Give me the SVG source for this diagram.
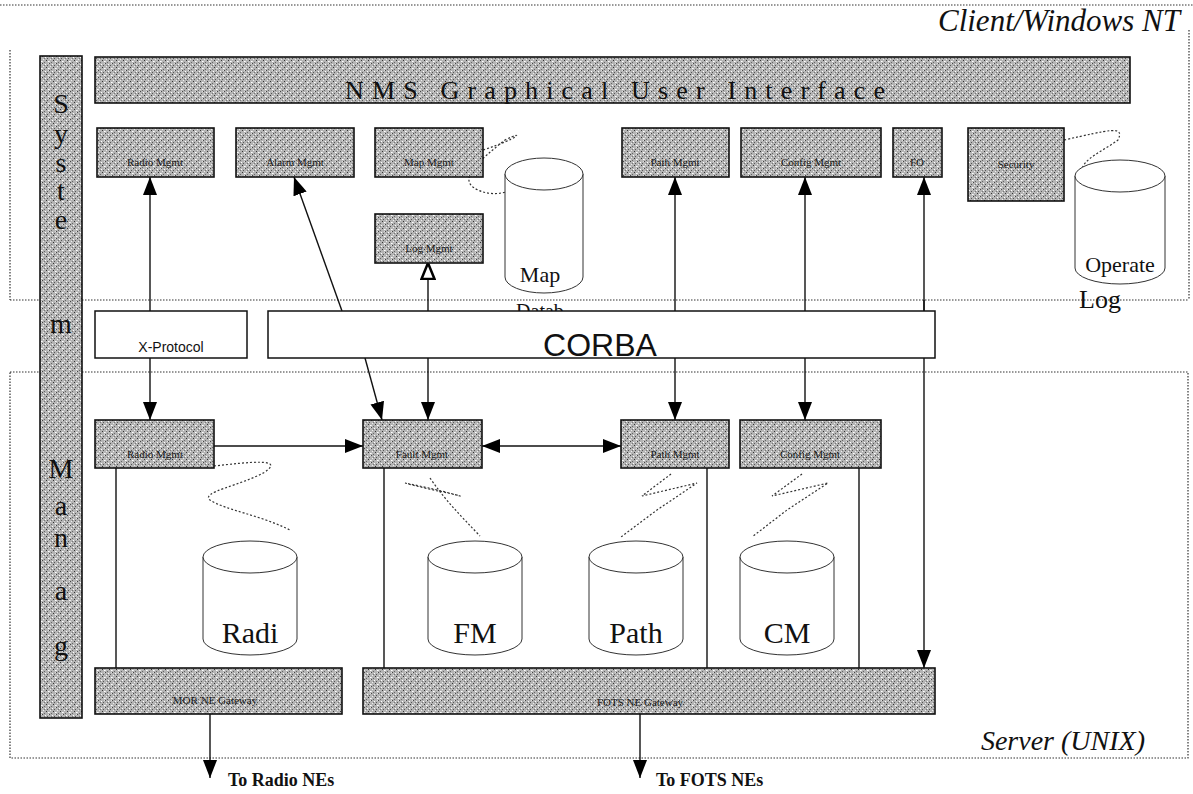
<svg xmlns="http://www.w3.org/2000/svg" width="1193" height="794" viewBox="0 0 1193 794">
<style>
.frame{fill:none;stroke:#333;stroke-width:1.2;stroke-dasharray:1.5 1.5}
.tex{fill:url(#grain);stroke:#111;stroke-width:1.6}
.wbox{fill:#fff;stroke:#111;stroke-width:1.5}
.lbl{font-family:"Liberation Serif",serif;font-size:11px;fill:#1a1a1a;text-anchor:middle}
.cyl{fill:#fff;stroke:#333;stroke-width:1}
.cyltxt{font-family:"Liberation Serif",serif;fill:#111;text-anchor:middle}
.vl{font-family:"Liberation Serif",serif;font-size:28px;fill:#111;text-anchor:middle}
.con{stroke:#111;stroke-width:1.4;fill:none}
.dot{fill:none;stroke:#333;stroke-width:1.2;stroke-dasharray:2 2}
.ital{font-family:"Liberation Serif",serif;font-style:italic;fill:#111}
.ne{font-family:"Liberation Serif",serif;font-weight:bold;font-size:18px;fill:#111}
</style>
<defs>
<pattern id="grain" width="7" height="7" patternUnits="userSpaceOnUse">
<rect width="7" height="7" fill="#b4b4b4"/>
<rect x="0" y="0" width="1" height="1" fill="#444"/>
<rect x="3" y="1" width="1" height="1" fill="#fff"/>
<rect x="5" y="2" width="1" height="1" fill="#555"/>
<rect x="1" y="3" width="1" height="1" fill="#eee"/>
<rect x="4" y="4" width="1" height="1" fill="#333"/>
<rect x="6" y="5" width="1" height="1" fill="#fff"/>
<rect x="2" y="6" width="1" height="1" fill="#666"/>
<rect x="6" y="0" width="1" height="1" fill="#ddd"/>
<rect x="2" y="2" width="1" height="1" fill="#777"/>
<rect x="0" y="5" width="1" height="1" fill="#e8e8e8"/>
</pattern>
<marker id="ah" viewBox="0 0 18 14" refX="18" refY="7" markerWidth="18" markerHeight="14" orient="auto" markerUnits="userSpaceOnUse">
<path d="M0,0 L18,7 L0,14 z" fill="#000"/>
</marker>
<marker id="ahs" viewBox="0 0 18 14" refX="0" refY="7" markerWidth="18" markerHeight="14" orient="auto" markerUnits="userSpaceOnUse">
<path d="M18,0 L0,7 L18,14 z" fill="#000"/>
</marker>
<marker id="aho" viewBox="0 0 18 16" refX="17" refY="8" markerWidth="18" markerHeight="16" orient="auto" markerUnits="userSpaceOnUse">
<path d="M1,1.5 L17,8 L1,14.5 z" fill="#fff" stroke="#000" stroke-width="2.5"/>
</marker>
</defs>
<rect width="1193" height="794" fill="#fff"/>

<g id="frames">
<path class="frame" d="M0,5 H1193 M1189,30 V300 M10,50 V300 M10,300 H1189"/>
<path class="frame" d="M10,372 H1188 V758 H10 Z"/>
<text class="ital" x="1180" y="31" font-size="31" text-anchor="end">Client/Windows NT</text>
<text class="ital" x="1145" y="750" font-size="28" text-anchor="end">Server (UNIX)</text>
</g>

<g id="connectors">
<line class="con" x1="150" y1="311" x2="150" y2="177" marker-end="url(#ah)"/>
<line class="con" x1="342" y1="311" x2="294" y2="177" marker-end="url(#ah)"/>
<line class="con" x1="428" y1="311" x2="428" y2="263" marker-end="url(#aho)"/>
<line class="con" x1="675" y1="311" x2="675" y2="177" marker-end="url(#ah)"/>
<line class="con" x1="805" y1="311" x2="805" y2="177" marker-end="url(#ah)"/>
<line class="con" x1="924" y1="311" x2="924" y2="177" marker-end="url(#ah)"/>
<line class="con" x1="150" y1="358" x2="150" y2="420" marker-end="url(#ah)"/>
<line class="con" x1="365" y1="358" x2="382" y2="420" marker-end="url(#ah)"/>
<line class="con" x1="428" y1="358" x2="428" y2="420" marker-end="url(#ah)"/>
<line class="con" x1="675" y1="358" x2="675" y2="420" marker-end="url(#ah)"/>
<line class="con" x1="805" y1="358" x2="805" y2="420" marker-end="url(#ah)"/>
<line class="con" x1="924" y1="300" x2="924" y2="668" marker-end="url(#ah)"/>
<line class="con" x1="214" y1="446" x2="363" y2="446" marker-end="url(#ah)"/>
<line class="con" x1="482" y1="446" x2="621" y2="446" marker-start="url(#ahs)" marker-end="url(#ah)"/>
<line class="con" x1="116" y1="468" x2="116" y2="668"/>
<line class="con" x1="384" y1="468" x2="384" y2="668"/>
<line class="con" x1="707" y1="468" x2="707" y2="668"/>
<line class="con" x1="859" y1="468" x2="859" y2="668"/>
<line class="con" x1="210" y1="714" x2="210" y2="778" marker-end="url(#ah)"/>
<line class="con" x1="640" y1="714" x2="640" y2="778" marker-end="url(#ah)"/>
<path class="dot" d="M483,150 C520,138 525,130 505,140 C480,160 455,180 478,190 C495,198 515,192 530,178"/>
<path class="dot" d="M1064,140 C1110,130 1125,125 1118,140 C1105,150 1080,160 1082,172 C1084,180 1100,182 1115,180"/>
<path class="dot" d="M214,466 C250,462 285,458 265,472 C240,486 200,492 210,500 C225,510 260,515 290,530"/>
<path class="dot" d="M405,483 C430,490 460,495 460,496 C440,490 410,484 405,483 M430,478 C445,500 460,515 480,536"/>
<path class="dot" d="M671,474 L642,496 L697,483 L657,510 L621,537"/>
<path class="dot" d="M802,474 L772,496 L828,483 L787,510 L752,537"/>
</g>

<g id="sysmgmt">
<rect class="tex" x="40" y="56" width="42" height="662"/>
<text class="vl" x="61" y="113">S</text>
<text class="vl" x="61" y="143">y</text>
<text class="vl" x="61" y="172">s</text>
<text class="vl" x="61" y="200">t</text>
<text class="vl" x="61" y="229">e</text>
<text class="vl" x="61" y="333">m</text>
<text class="vl" x="61" y="478">M</text>
<text class="vl" x="61" y="515">a</text>
<text class="vl" x="61" y="547">n</text>
<text class="vl" x="61" y="600">a</text>
<text class="vl" x="61" y="655">g</text>
</g>

<g id="gui">
<rect class="tex" x="95" y="57" width="1035" height="46"/>
<text x="345" y="99" font-family="Liberation Serif, serif" font-size="26" fill="#111" textLength="540" lengthAdjust="spacing">NMS Graphical User Interface</text>
</g>

<g id="c-radio"><rect class="tex" x="97" y="128" width="117" height="49"/><text class="lbl" x="155" y="166">Radio Mgmt</text></g>
<g id="c-alarm"><rect class="tex" x="236" y="128" width="118" height="49"/><text class="lbl" x="295" y="166">Alarm Mgmt</text></g>
<g id="c-map"><rect class="tex" x="375" y="128" width="108" height="49"/><text class="lbl" x="429" y="166">Map Mgmt</text></g>
<g id="c-log"><rect class="tex" x="375" y="214" width="108" height="49"/><text class="lbl" x="429" y="252">Log Mgmt</text></g>
<g id="c-path"><rect class="tex" x="622" y="128" width="107" height="49"/><text class="lbl" x="675" y="166">Path Mgmt</text></g>
<g id="c-config"><rect class="tex" x="741" y="128" width="140" height="49"/><text class="lbl" x="811" y="166">Config Mgmt</text></g>
<g id="c-fo"><rect class="tex" x="893" y="128" width="49" height="49"/><text class="lbl" x="917" y="166">FO</text></g>
<g id="c-security"><rect class="tex" x="968" y="128" width="96" height="73"/><text class="lbl" x="1016" y="168">Security</text></g>

<g id="db-map">
<path class="cyl" d="M505,174 V277 A39,16 0 0 0 583,277 V174"/>
<ellipse class="cyl" cx="544" cy="174" rx="39" ry="16"/>
<text class="cyltxt" x="540" y="282" style="font-size:22px">Map</text>
<text x="540" y="318" font-family="Liberation Serif, serif" font-size="20" fill="#111" text-anchor="middle">Datab</text>
</g>
<g id="db-oplog">
<path class="cyl" d="M1075,176 V268 A45,16 0 0 0 1165,268 V176"/>
<ellipse class="cyl" cx="1120" cy="176" rx="45" ry="16"/>
<text class="cyltxt" x="1120" y="272" style="font-size:22px">Operate</text>
<text class="cyltxt" x="1100" y="308" style="font-size:26px">Log</text>
</g>

<g id="xprotocol"><rect class="wbox" x="95" y="311" width="152" height="47"/><text x="171" y="352" font-family="Liberation Sans, sans-serif" font-size="14" fill="#111" text-anchor="middle">X-Protocol</text></g>
<g id="corba"><rect class="wbox" x="268" y="311" width="667" height="47"/><text x="600" y="356" font-family="Liberation Sans, sans-serif" font-size="32" fill="#111" text-anchor="middle">CORBA</text></g>

<g id="s-radio"><rect class="tex" x="95" y="420" width="119" height="48"/><text class="lbl" x="155" y="458">Radio Mgmt</text></g>
<g id="s-fault"><rect class="tex" x="363" y="420" width="119" height="48"/><text class="lbl" x="422" y="458">Fault Mgmt</text></g>
<g id="s-path"><rect class="tex" x="621" y="420" width="108" height="48"/><text class="lbl" x="675" y="458">Path Mgmt</text></g>
<g id="s-config"><rect class="tex" x="740" y="420" width="141" height="48"/><text class="lbl" x="810" y="458">Config Mgmt</text></g>

<g id="db-radi"><path class="cyl" d="M203,557 V639 A47,16 0 0 0 297,639 V557"/><ellipse class="cyl" cx="250" cy="557" rx="47" ry="16"/><text class="cyltxt" x="250" y="643" style="font-size:30px">Radi</text></g>
<g id="db-fm"><path class="cyl" d="M428,557 V639 A47,16 0 0 0 522,639 V557"/><ellipse class="cyl" cx="475" cy="557" rx="47" ry="16"/><text class="cyltxt" x="475" y="643" style="font-size:30px">FM</text></g>
<g id="db-path"><path class="cyl" d="M589,557 V639 A47,16 0 0 0 683,639 V557"/><ellipse class="cyl" cx="636" cy="557" rx="47" ry="16"/><text class="cyltxt" x="636" y="643" style="font-size:30px">Path</text></g>
<g id="db-cm"><path class="cyl" d="M740,557 V639 A47,16 0 0 0 834,639 V557"/><ellipse class="cyl" cx="787" cy="557" rx="47" ry="16"/><text class="cyltxt" x="787" y="643" style="font-size:30px">CM</text></g>

<g id="gw-radio"><rect class="tex" x="95" y="668" width="247" height="46"/><text class="lbl" x="215" y="704">MOR NE Gateway</text></g>
<g id="gw-fots"><rect class="tex" x="363" y="668" width="572" height="46"/><text class="lbl" x="640" y="706">FOTS NE Gateway</text></g>

<g id="labels">
<text class="ne" x="228" y="786">To Radio NEs</text>
<text class="ne" x="656" y="786">To FOTS NEs</text>
</g>
</svg>
